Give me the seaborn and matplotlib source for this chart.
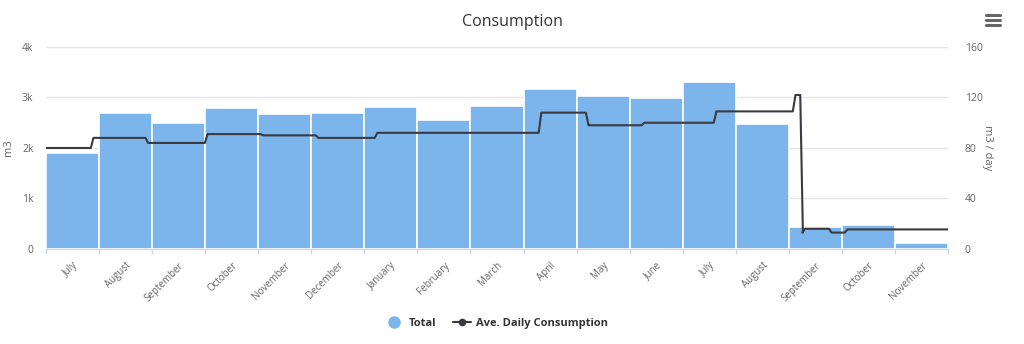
import matplotlib.pyplot as plt
import seaborn as sns
import pandas as pd
from matplotlib.lines import Line2D

# monthly totals (m3)
months = ['July', 'August', 'September', 'October', 'November', 'December',
          'January', 'February', 'March', 'April', 'May', 'June',
          'July', 'August', 'September', 'October', 'November']
totals = [1900, 2700, 2500, 2790, 2670, 2700, 2810, 2550, 2830,
          3170, 3030, 2990, 3310, 2480, 440, 470, 120]

# average daily consumption: reading positions (in month index) and value from there on
avg_start = [-0.5, 0.37, 1.40, 2.52, 3.57, 4.61, 5.72, 8.81, 9.70, 10.75,
             12.11, 13.60, 13.74, 13.78, 14.28, 14.58]
avg_value = [80, 88, 84, 91, 90, 88, 92, 108, 98, 100,
             109, 122, 13, 16, 13, 15.5]
avg_end = 16.5

BLUE = '#7cb5ec'
DARK = '#3a3a40'
GRID = '#e6e6e6'
TXT = '#666666'

sns.set_style('white')
plt.rcParams['font.family'] = ['Open Sans', 'DejaVu Sans']

fig = plt.figure(figsize=(10.24, 3.44), dpi=100)
ax = fig.add_axes([0.0449, 0.2762, 0.8809, 0.5872])

df = pd.DataFrame({'month': range(len(months)), 'total': totals})
sns.barplot(data=df, x='month', y='total', color=BLUE, width=1.0,
            edgecolor='white', linewidth=1.2, saturation=1, ax=ax, zorder=2)

ax.set_xlim(-0.5, len(months) - 0.5)
ax.set_ylim(0, 4000)
ax.set_yticks([0, 1000, 2000, 3000, 4000])
ax.set_yticklabels(['0', '1k', '2k', '3k', '4k'])
ax.grid(axis='y', color=GRID, linewidth=1, zorder=0)
ax.set_axisbelow(True)
ax.set_xticks(range(len(months)))
ax.set_xticklabels(months, rotation=45, ha='right', rotation_mode='anchor')
ax.tick_params(axis='x', length=0, pad=8, labelsize=7, labelcolor=TXT)
ax.tick_params(axis='y', length=0, pad=9, labelsize=7.5, labelcolor=TXT)
ax.set_xlabel('')
ax.set_ylabel('m3', fontsize=8, color=TXT, labelpad=12)
ax.yaxis.set_label_coords(-0.036, 0.5)
for s in ['top', 'left', 'right']:
    ax.spines[s].set_visible(False)
ax.spines['bottom'].set_color('#ccd6eb')
# category boundary ticks
for b in range(len(months) + 1):
    ax.plot([b - 0.5, b - 0.5], [0, -0.02], transform=ax.get_xaxis_transform(),
            color='#ccd6eb', lw=1, clip_on=False)

# step line with short ramps
ramp = 0.05
xs, ys = [avg_start[0]], [avg_value[0]]
for i in range(1, len(avg_start)):
    xs += [avg_start[i] - ramp / 2, avg_start[i] + ramp / 2]
    ys += [avg_value[i - 1], avg_value[i]]
xs.append(avg_end)
ys.append(avg_value[-1])

ax2 = ax.twinx()
sns.lineplot(x=xs, y=ys, sort=False, estimator=None, color=DARK,
             linewidth=1.5, ax=ax2)
ax2.set_ylim(0, 160)
ax2.set_yticks([0, 40, 80, 120, 160])
ax2.tick_params(axis='y', length=0, pad=12, labelsize=7.5, labelcolor=TXT)
ax2.set_ylabel('m3 / day', fontsize=8, color=TXT, rotation=270)
ax2.yaxis.set_label_coords(1.05, 0.5)
for s in ['top', 'left', 'right', 'bottom']:
    ax2.spines[s].set_visible(False)
ax2.set_xlim(-0.5, len(months) - 0.5)

fig.text(0.5, 0.935, 'Consumption', ha='center', va='center',
         fontsize=11.5, color='#333333')

# menu icon
for yy in [0.928, 0.942, 0.956]:
    fig.add_artist(Line2D([0.963, 0.977], [yy, yy], color='#666666', lw=2.2))

handles = [Line2D([], [], marker='o', ls='none', color=BLUE, markersize=8),
           Line2D([], [], marker='o', color=DARK, lw=1.5, markersize=4.5)]
fig.legend(handles, ['Total', 'Ave. Daily Consumption'], loc='center',
           bbox_to_anchor=(0.485, 0.06), ncol=2, frameon=False,
           prop={'weight': 'bold', 'size': 8}, handlelength=1.6,
           columnspacing=1.5, handletextpad=0.5, labelcolor='#333333')

fig.savefig('out.png', dpi=100)
